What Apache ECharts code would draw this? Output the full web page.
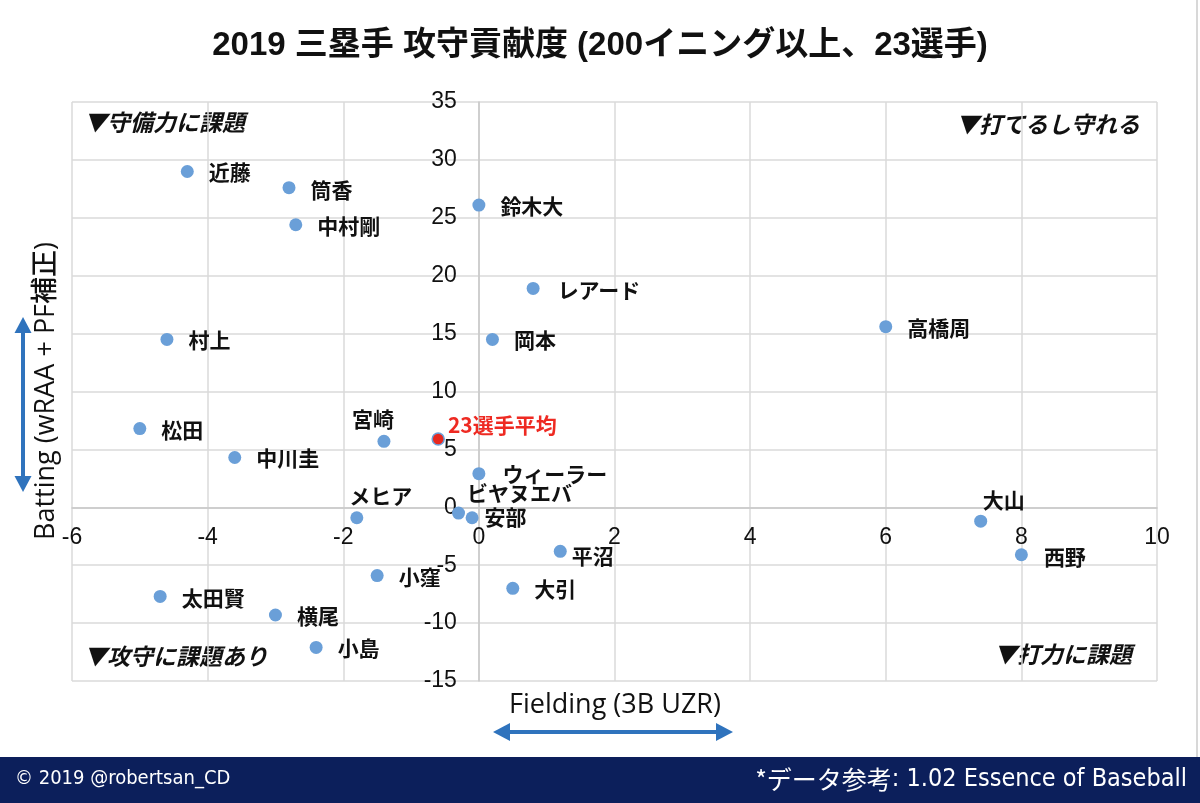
<!DOCTYPE html>
<html>
<head>
<meta charset="utf-8">
<script src="https://cdn.jsdelivr.net/npm/echarts@6/dist/echarts.min.js"></script>
<style>
html,body{margin:0;padding:0;background:#fff;}
#chart{width:1200px;height:803px;}
</style>
</head>
<body>
<div id="chart"></div>
<script>
// ---- data ----
const players = ['近藤','筒香','中村剛','鈴木大','レアード','高橋周','岡本','村上','松田','宮崎','中川圭','ウィーラー','ビヤヌエバ','安部','メヒア','大山','西野','平沼','小窪','大引','太田賢','横尾','小島'];
const fielding = [-4.3,-2.8,-2.7,0.0,0.8,6.0,0.2,-4.6,-5.0,-1.4,-3.6,0.0,-0.3,-0.1,-1.8,7.4,8.0,1.2,-1.5,0.5,-4.7,-3.0,-2.4];
const batting  = [29.0,27.6,24.4,26.1,18.9,15.6,14.5,14.5,6.8,5.7,4.3,2.9,-0.5,-0.9,-0.9,-1.2,-4.1,-3.8,-5.9,-7.0,-7.7,-9.3,-12.1];
const avgName = '23選手平均';
const avgPoint = [-0.6, 5.9];
const xTicks = [-6,-4,-2,0,2,4,6,8,10];
const yTicks = [-15,-10,-5,0,5,10,15,20,25,30,35];

// ---- layout / style ----
const GRID = {left:72, right:43, top:102, bottom:122};
const W = 1200, H = 803;
const xMin = xTicks[0], xMax = xTicks[xTicks.length-1];
const yMin = yTicks[0], yMax = yTicks[yTicks.length-1];
const plotW = W - GRID.left - GRID.right;
const plotH = H - GRID.top - GRID.bottom;
// axis lines cross at zero (placed through axis offset)
const xAxisOffset = -((0 - yMin) / (yMax - yMin)) * plotH;
const yAxisOffset = -((0 - xMin) / (xMax - xMin)) * plotW;

const labelLayout = {
  '宮崎': {position:'top', offset:[-11,10]},
  'メヒア': {position:'top', offset:[24,10]},
  '大山': {position:'top', offset:[23,11]},
  'ビヤヌエバ': {offset:[-13,-20]},
  '安部': {offset:[-9,-1]},
  '平沼': {offset:[-10,5]},
  'レアード': {offset:[3,2]},
  'ウィーラー': {offset:[2,0]},
  '西野': {offset:[1,2]},
  '太田賢': {offset:[0,2]},
  '筒香': {offset:[0,2]}
};

const FONT = "'Liberation Sans', 'Noto Sans CJK JP', sans-serif";
const JP = "'Noto Sans CJK JP', sans-serif";
const BLUE = '#6a9fd8';
const ARROW = '#2f73bd';

const pts = players.map((n,i)=>{
  const lay = labelLayout[n] || {};
  return {
    name: n,
    value: [fielding[i], batting[i]],
    label: {position: lay.position || 'right', offset: lay.offset || [0,1]}
  };
});

const chart = echarts.init(document.getElementById('chart'), null, {renderer:'canvas'});

function arrowH(x1,x2,y){
  const hl=17, hw=9;
  return [
    {type:'line', shape:{x1:x1+hl-2,y1:y,x2:x2-hl+2,y2:y}, style:{stroke:ARROW,lineWidth:4}},
    {type:'polygon', shape:{points:[[x1,y],[x1+hl,y-hw],[x1+hl,y+hw]]}, style:{fill:ARROW}},
    {type:'polygon', shape:{points:[[x2,y],[x2-hl,y-hw],[x2-hl,y+hw]]}, style:{fill:ARROW}}
  ];
}
function arrowV(x,y1,y2){
  const hl=16, hw=8.5;
  return [
    {type:'line', shape:{x1:x,y1:y1+hl-2,x2:x,y2:y2-hl+2}, style:{stroke:ARROW,lineWidth:4}},
    {type:'polygon', shape:{points:[[x,y1],[x-hw,y1+hl],[x+hw,y1+hl]]}, style:{fill:ARROW}},
    {type:'polygon', shape:{points:[[x,y2],[x-hw,y2-hl],[x+hw,y2-hl]]}, style:{fill:ARROW}}
  ];
}
const cornerStyle = {font:"italic bold 23px 'Noto Sans CJK JP', sans-serif", fill:'#111'};
const NAMEFONT = "500 27px 'Open Sans', 'Noto Sans CJK JP', sans-serif";

const option = {
  backgroundColor:'#fff',
  animation:false,
  title:{
    text:'2019 三塁手 攻守貢献度 (200イニング以上、23選手)',
    left:'center', top:24,
    textStyle:{fontFamily:FONT, fontSize:33, fontWeight:'bold', color:'#111'}
  },
  grid:GRID,
  xAxis:{
    type:'value', min:xMin, max:xMax, interval:2, offset:xAxisOffset,
    axisLine:{show:true, onZero:false, lineStyle:{color:'#c8c8c8', width:1.5}},
    axisTick:{show:false},
    axisLabel:{margin:19, fontSize:23, color:'#111', fontFamily:FONT,
      formatter:v=>xTicks.includes(v)?String(v):''},
    splitLine:{show:true, lineStyle:{color:'#dadada', width:1.5}}
  },
  yAxis:{
    type:'value', min:yMin, max:yMax, interval:5, offset:yAxisOffset,
    axisLine:{show:true, onZero:false, lineStyle:{color:'#c8c8c8', width:1.5}},
    axisTick:{show:false},
    axisLabel:{margin:22, fontSize:23, color:'#111', fontFamily:FONT,
      formatter:v=>yTicks.includes(v)?String(v):''},
    splitLine:{show:true, lineStyle:{color:'#dadada', width:1.5}}
  },
  series:[
    {
      type:'scatter', symbolSize:13, z:3,
      itemStyle:{color:BLUE, opacity:1},
      label:{show:true, formatter:'{b}', distance:15, fontSize:21, fontWeight:'bold',
        color:'#111', fontFamily:JP},
      emphasis:{disabled:true},
      data:pts
    },
    {
      type:'scatter', symbolSize:12, z:4,
      itemStyle:{color:'#e8281f', borderColor:BLUE, borderWidth:1.5, opacity:1},
      label:{show:true, formatter:'{b}', position:'right', distance:15, offset:[-12,-14],
        fontSize:21, fontWeight:'bold', color:'#ee2a22', fontFamily:JP},
      emphasis:{disabled:true},
      data:[{name:avgName, value:avgPoint}]
    }
  ],
  graphic:[
    {type:'text', left:84, top:111, style:Object.assign({text:'▼守備力に課題'}, cornerStyle)},
    {type:'text', right:60, top:113, style:Object.assign({text:'▼打てるし守れる'}, cornerStyle)},
    {type:'text', left:84, top:645, style:Object.assign({text:'▼攻守に課題あり'}, cornerStyle)},
    {type:'text', right:68, top:643, style:Object.assign({text:'▼打力に課題'}, cornerStyle)},
    {type:'text', x:615, y:705, style:{text:'Fielding (3B UZR)', font:NAMEFONT, fill:'#111', align:'center', verticalAlign:'middle'}},
    {type:'text', x:46, y:391, rotation:Math.PI/2, style:{text:'Batting (wRAA + PF補正)', font:NAMEFONT, fill:'#111', align:'center', verticalAlign:'middle'}},
    ...arrowH(493,733,732),
    ...arrowV(23,317,492),
    {type:'line', shape:{x1:1197,y1:0,x2:1197,y2:757}, style:{stroke:'#d8d8d8', lineWidth:2}},
    {type:'rect', shape:{x:0,y:757,width:1200,height:46}, style:{fill:'#0c1f5b'}},
    {type:'text', x:15, y:779, style:{text:'© 2019 @robertsan_CD', font:"20px 'DejaVu Sans Condensed', 'Noto Sans CJK JP', sans-serif", fill:'#fff', verticalAlign:'middle'}},
    {type:'text', x:1187, y:779, style:{
      text:'{j|*データ参考}{l|: 1.02 Essence of Baseball}', align:'right', verticalAlign:'middle', fill:'#fff',
      rich:{
        j:{fontFamily:JP, fontSize:25, fill:'#fff'},
        l:{fontFamily:"'DejaVu Sans Condensed', sans-serif", fontSize:25, fill:'#fff'}
      }}}
  ]
};
chart.setOption(option);
</script>
</body>
</html>
